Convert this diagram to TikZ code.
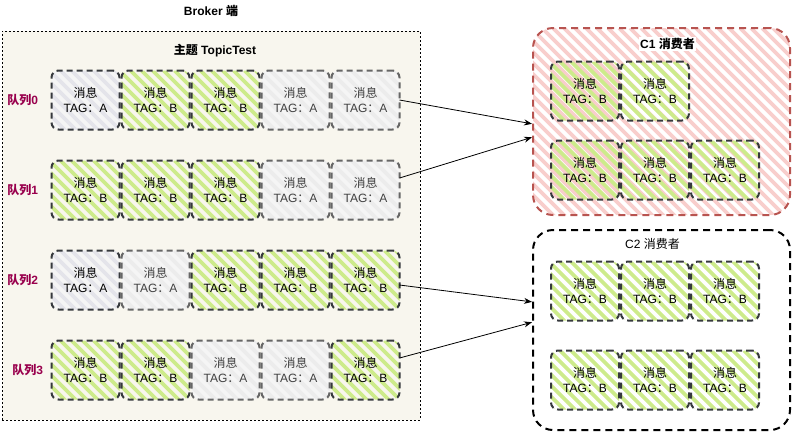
\documentclass[tikz,border=0pt]{standalone}
\usepackage{fontspec}
\setmainfont{Liberation Sans}
\newfontfamily\cjk{Noto Sans CJK SC}
\usepackage{xcolor}
\usepackage{tikz}
\usetikzlibrary{arrows.meta,positioning}
\definecolor{tagB}{HTML}{CDEB8B}
\definecolor{tagA}{HTML}{E4E4EA}
\definecolor{tagAbg}{HTML}{F5F5F5}
\definecolor{tagAlt}{HTML}{ECECEC}
\definecolor{msgline}{HTML}{36393D}
\definecolor{msgfaint}{HTML}{666666}
\definecolor{brokerbg}{HTML}{F8F6EE}
\definecolor{queuered}{HTML}{99004D}
\definecolor{consumerred}{HTML}{B85450}
\definecolor{consumerbg}{HTML}{F8CECC}
\newcommand{\msgtag}[1]{{\cjk 消息}\\TAG{\cjk ：}#1}

\begin{document}
\begin{tikzpicture}[
  x=1pt, y=-1pt,
  font=\fontsize{12}{15}\selectfont,
  hatch/.style={path picture={\foreach \k in {0,...,44} \draw[#1, solid, line width=3.8pt] ([xshift=\k*11pt-200pt]path picture bounding box.north west) -- ++(260pt,-260pt);}},
  msg/.style={rounded corners=7pt, minimum width=68pt, minimum height=59pt, outer sep=0pt, inner sep=0pt, align=center, line width=2pt, dash pattern=on 6pt off 4pt},
  msgB/.style={msg, draw=msgline, hatch=tagB},
  msgA/.style={msg, draw=msgfaint, text=black!75, fill=tagAbg, hatch=tagAlt},
  msgAdark/.style={msg, draw=msgline, fill=tagAbg, hatch=tagA},
  broker/.style={draw, line width=0.6pt, dash pattern=on 2pt off 2pt, fill=brokerbg, minimum width=418pt, minimum height=389pt, outer sep=0pt},
  consumer/.style={rounded corners=20pt, line width=2pt, dash pattern=on 7pt off 5pt, minimum width=257pt, outer sep=0pt},
  title/.style={font=\bfseries\fontsize{12}{14}\selectfont, inner sep=1pt},
  plaintitle/.style={font=\fontsize{12}{14}\selectfont, inner sep=1pt},
  qlabel/.style={font=\bfseries\fontsize{12}{14}\selectfont, text=queuered},
  link/.style={-{Stealth[length=8pt,width=6pt]}, line width=0.8pt, shorten >=1pt}
]
\useasboundingbox (0,0) rectangle (792,432);

% Broker side
\node[broker] (broker) at (211,225.5) {};
\node[title, above=13pt of broker.north] (brokertitle) {Broker {\cjk 端}};
\node[title, below=12pt of broker.north, xshift=4pt] (topic) {{\cjk 主题} TopicTest};

% Consumers
\node[consumer, draw=consumerred, fill=white, hatch=consumerbg, minimum height=187pt] (c1) at (661.5,121.5) {};
\node[title, fill=white, below=9pt of c1.north, xshift=6pt] (c1title) {C1 {\cjk 消费者}};
\node[consumer, draw=black, fill=white, minimum height=200pt] (c2) at (661.5,330) {};
\node[plaintitle, below=7pt of c2.north, xshift=-9pt] (c2title) {C2 {\cjk 消费者}};

% Queue 0
\node[msgAdark] (q0m1) at (85.5,100) {\msgtag{A}};
\node[msgB, right=2pt of q0m1] (q0m2) {\msgtag{B}};
\node[msgB, right=2pt of q0m2] (q0m3) {\msgtag{B}};
\node[msgA, right=2pt of q0m3] (q0m4) {\msgtag{A}};
\node[msgA, right=2pt of q0m4] (q0m5) {\msgtag{A}};
\node[qlabel, left=10pt of q0m1] (q0) {{\cjk 队列}0};

% Queue 1
\node[msgB] (q1m1) at (85.5,190) {\msgtag{B}};
\node[msgB, right=2pt of q1m1] (q1m2) {\msgtag{B}};
\node[msgB, right=2pt of q1m2] (q1m3) {\msgtag{B}};
\node[msgA, right=2pt of q1m3] (q1m4) {\msgtag{A}};
\node[msgA, right=2pt of q1m4] (q1m5) {\msgtag{A}};
\node[qlabel, left=10pt of q1m1] (q1) {{\cjk 队列}1};

% Queue 2
\node[msgAdark] (q2m1) at (85.5,280) {\msgtag{A}};
\node[msgA, right=2pt of q2m1] (q2m2) {\msgtag{A}};
\node[msgB, right=2pt of q2m2] (q2m3) {\msgtag{B}};
\node[msgB, right=2pt of q2m3] (q2m4) {\msgtag{B}};
\node[msgB, right=2pt of q2m4] (q2m5) {\msgtag{B}};
\node[qlabel, left=10pt of q2m1] (q2) {{\cjk 队列}2};

% Queue 3
\node[msgB] (q3m1) at (85.5,370) {\msgtag{B}};
\node[msgB, right=2pt of q3m1] (q3m2) {\msgtag{B}};
\node[msgA, right=2pt of q3m2] (q3m3) {\msgtag{A}};
\node[msgA, right=2pt of q3m3] (q3m4) {\msgtag{A}};
\node[msgB, right=2pt of q3m4] (q3m5) {\msgtag{B}};
\node[qlabel, left=5pt of q3m1] (q3) {{\cjk 队列}3};

% C1 messages
\node[msgB] (c1m1) at (585,91) {\msgtag{B}};
\node[msgB, right=2pt of c1m1] (c1m2) {\msgtag{B}};
\node[msgB] (c1m3) at (585,170) {\msgtag{B}};
\node[msgB, right=2pt of c1m3] (c1m4) {\msgtag{B}};
\node[msgB, right=2pt of c1m4] (c1m5) {\msgtag{B}};

% C2 messages
\node[msgB] (c2m1) at (585,291) {\msgtag{B}};
\node[msgB, right=2pt of c2m1] (c2m2) {\msgtag{B}};
\node[msgB, right=2pt of c2m2] (c2m3) {\msgtag{B}};
\node[msgB] (c2m4) at (585,380) {\msgtag{B}};
\node[msgB, right=2pt of c2m4] (c2m5) {\msgtag{B}};
\node[msgB, right=2pt of c2m5] (c2m6) {\msgtag{B}};

% Queue to consumer
\draw[link] (q0m5.east) -- ([yshift=-2.5pt]c1.west);
\draw[link] ([yshift=12pt]q1m5.east) -- ([yshift=-15.5pt]c1.west);
\draw[link] ([yshift=-5pt]q2m5.east) -- ([yshift=28pt]c2.west);
\draw[link] ([yshift=12pt]q3m5.east) -- ([yshift=8pt]c2.west);

\end{tikzpicture}
\end{document}
